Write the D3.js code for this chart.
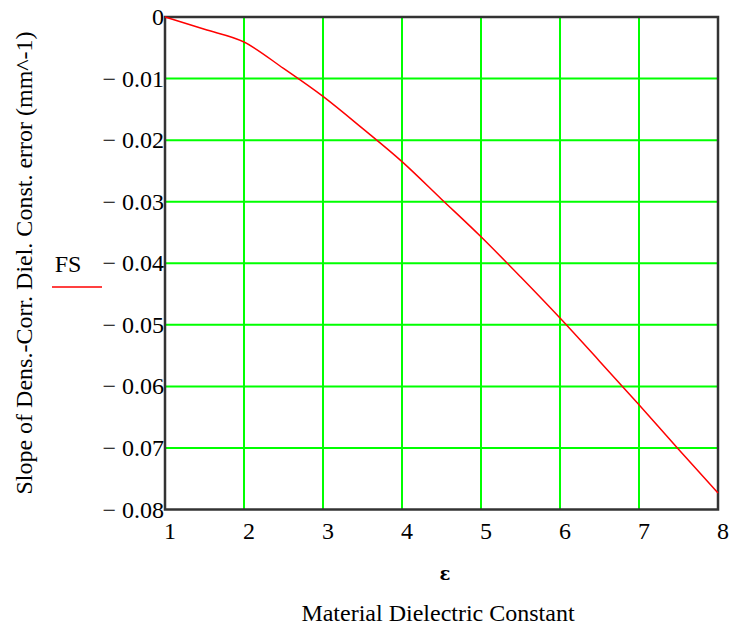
<!DOCTYPE html>
<html><head><meta charset="utf-8">
<script src="https://cdn.jsdelivr.net/npm/d3@7"></script>
<style>body{margin:0;background:#fff}svg{display:block}</style>
</head><body>
<svg id="c" width="733" height="628"></svg>
<script>
const epsValues = [1, 1.5, 2, 2.5, 3, 3.5, 4, 4.5, 5, 5.5, 6, 6.5, 7, 7.5, 8];
const fsValues = [0, -0.0020, -0.00406, -0.00835, -0.0129, -0.0181, -0.0235, -0.0296, -0.0357, -0.0422, -0.0489, -0.0559, -0.0630, -0.0702, -0.0773];
const xTicks = [1, 2, 3, 4, 5, 6, 7, 8];
const yTicks = [0, -0.01, -0.02, -0.03, -0.04, -0.05, -0.06, -0.07, -0.08];
const yTickLabels = ["0", "\u2212 0.01", "\u2212 0.02", "\u2212 0.03", "\u2212 0.04", "\u2212 0.05", "\u2212 0.06", "\u2212 0.07", "\u2212 0.08"];

const svg = d3.select("#c");
const L = 165, R = 718, T = 17, B = 509.5;
const x = d3.scaleLinear().domain([1, 8]).range([L, R]);
const y = d3.scaleLinear().domain([-0.08, 0]).range([B, T]);
const font = "'Liberation Serif','Times New Roman',serif";
const fs = 24;

// grid
const grid = svg.append("g").attr("stroke", "#00ff00").attr("stroke-width", 2);
grid.selectAll("line.v").data(xTicks.slice(1, -1)).join("line")
  .attr("x1", d => x(d)).attr("x2", d => x(d)).attr("y1", T).attr("y2", B);
grid.selectAll("line.h").data(yTicks.slice(1, -1)).join("line")
  .attr("x1", L).attr("x2", R).attr("y1", d => y(d)).attr("y2", d => y(d));

// frame
svg.append("rect").attr("x", L).attr("y", T).attr("width", R - L).attr("height", B - T)
  .attr("fill", "none").attr("stroke", "#333").attr("stroke-width", 2.5);

// line
svg.append("path").datum(epsValues.map((e, i) => [e, fsValues[i]]))
  .attr("fill", "none").attr("stroke", "#ff0000").attr("stroke-width", 1.5)
  .attr("d", d3.line().curve(d3.curveMonotoneX).x(d => x(d[0])).y(d => y(d[1])));

// y tick labels
svg.append("g").selectAll("text").data(yTicks).join("text")
  .attr("x", L - 1).attr("y", d => y(d) + 8)
  .attr("text-anchor", "end").attr("font-family", font).attr("font-size", fs)
  .attr("fill", "#000")
  .text((d, i) => yTickLabels[i]);

// x tick labels
svg.append("g").selectAll("text").data(xTicks).join("text")
  .attr("x", d => x(d) + 5).attr("y", 539)
  .attr("text-anchor", "middle").attr("font-family", font).attr("font-size", fs)
  .attr("fill", "#000")
  .text(d => d);

// x axis var name and title
svg.append("text").attr("x", 445).attr("y", 580).attr("text-anchor", "middle")
  .attr("font-family", "'DejaVu Serif',serif").attr("font-weight", "bold").attr("font-size", 18)
  .text("\u03b5");
svg.append("text").attr("x", 438).attr("y", 621).attr("text-anchor", "middle")
  .attr("font-family", font).attr("font-size", fs)
  .text("Material Dielectric Constant");

// y title
svg.append("text").attr("transform", "translate(32,263) rotate(-90)")
  .attr("text-anchor", "middle").attr("font-family", font).attr("font-size", fs)
  .text("Slope of Dens.-Corr. Diel. Const. error (mm^-1)");

// legend
svg.append("text").attr("x", 68).attr("y", 272).attr("text-anchor", "middle")
  .attr("font-family", font).attr("font-size", fs).text("FS");
svg.append("line").attr("x1", 52).attr("x2", 102).attr("y1", 287).attr("y2", 287)
  .attr("stroke", "#ff0000").attr("stroke-width", 1.5);
</script>
</body></html>
